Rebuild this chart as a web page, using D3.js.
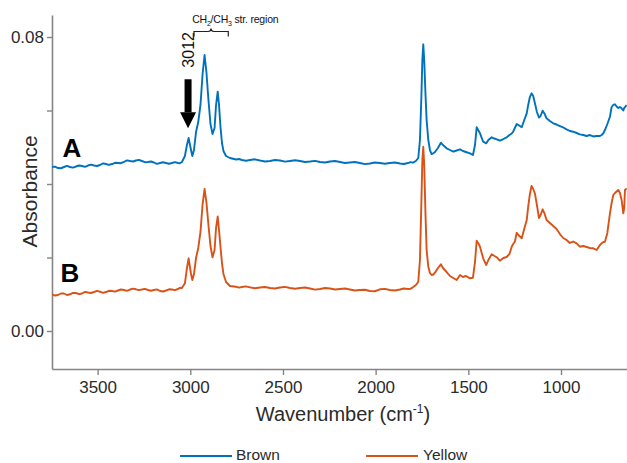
<!DOCTYPE html>
<html>
<head>
<meta charset="utf-8">
<script src="https://cdn.jsdelivr.net/npm/d3@7"></script>
<style>
  html, body { margin: 0; padding: 0; background: #fff; }
  svg { display: block; font-family: "Liberation Sans", Arial, sans-serif; }
</style>
</head>
<body>
<svg id="chart" width="627" height="463"></svg>
<script>
// FTIR spectra of two samples (absorbance vs wavenumber, cm^-1)
const wavenumber = [
  3746, 3730, 3714, 3698, 3681, 3665, 3649, 3633, 3617, 3600, 3584, 3568, 3552, 3536, 3519, 3503,
  3487, 3471, 3455, 3439, 3422, 3406, 3390, 3374, 3358, 3342, 3325, 3309, 3293, 3277, 3261, 3245,
  3228, 3212, 3196, 3180, 3163, 3147, 3131, 3115, 3099, 3083, 3066, 3056, 3045,
  3029, 3018, 3009, 2996, 2989, 2980, 2969, 2957, 2945,
  2934, 2923, 2913, 2902, 2891, 2880, 2869, 2861, 2852, 2845, 2837, 2829, 2821, 2807, 2786,
  2753, 2737, 2721, 2700, 2678, 2651, 2624, 2597, 2570, 2543, 2516, 2489, 2462, 2435, 2408, 2381,
  2354, 2327, 2300, 2273, 2246, 2219, 2192, 2166, 2139, 2112, 2085, 2058, 2031, 2004, 1977, 1950,
  1923, 1896, 1869, 1848, 1826, 1812, 1799,
  1783, 1770, 1761, 1753, 1748, 1743, 1738, 1731, 1725, 1716, 1707, 1698, 1689,
  1680, 1664, 1648, 1637, 1617, 1599, 1581, 1563, 1545, 1529, 1513, 1491, 1475, 1464, 1455, 1447,
  1437, 1420, 1403, 1392, 1374, 1359, 1346, 1330, 1311, 1293, 1278, 1266, 1258, 1249, 1239, 1230,
  1212, 1200, 1185, 1177, 1168, 1159, 1150, 1141, 1130, 1119, 1110, 1099, 1088, 1078, 1060, 1042,
  1024, 1006, 988, 970, 952, 934, 916, 898, 880, 862, 844, 826, 808, 790, 781, 771,
  763, 750, 736, 727, 718, 709, 700, 691, 682, 673, 664, 659, 655, 646
];
const brown = [
  0.04463, 0.04474, 0.04435, 0.04429, 0.04463, 0.04493, 0.04463, 0.04445, 0.04476, 0.04503, 0.04490, 0.04467, 0.04503, 0.04528, 0.04503, 0.04490,
  0.04517, 0.04561, 0.04544, 0.04519, 0.04544, 0.04578, 0.04571, 0.04565, 0.04599, 0.04643, 0.04626, 0.04613, 0.04640, 0.04658, 0.04626, 0.04593,
  0.04599, 0.04612, 0.04585, 0.04548, 0.04571, 0.04591, 0.04571, 0.04551, 0.04571, 0.04596, 0.04571, 0.04565, 0.04599,
  0.04762, 0.05061, 0.05252, 0.04925, 0.04762, 0.04925, 0.05415, 0.05687, 0.06150,
  0.06966, 0.07510, 0.07048, 0.06286, 0.05633, 0.05361, 0.05524, 0.06150, 0.06512, 0.06150, 0.05551, 0.05116, 0.04898, 0.04762, 0.04708,
  0.04667, 0.04680, 0.04653, 0.04633, 0.04653, 0.04672, 0.04640, 0.04613, 0.04626, 0.04653, 0.04640, 0.04608, 0.04626, 0.04646, 0.04626, 0.04599,
  0.04612, 0.04631, 0.04599, 0.04586, 0.04612, 0.04626, 0.04599, 0.04572, 0.04585, 0.04598, 0.04571, 0.04540, 0.04558, 0.04585, 0.04571, 0.04551,
  0.04571, 0.04585, 0.04558, 0.04545, 0.04571, 0.04596, 0.04580,
  0.04626, 0.04708, 0.05197, 0.06422, 0.07374, 0.07801, 0.07374, 0.06422, 0.05742, 0.05197, 0.04925, 0.04816, 0.04835,
  0.04871, 0.04980, 0.05124, 0.05061, 0.04971, 0.04925, 0.04879, 0.04912, 0.04944, 0.04898, 0.04871, 0.04835, 0.04789, 0.05061, 0.05543, 0.05469,
  0.05380, 0.05151, 0.05108, 0.05197, 0.05271, 0.05238, 0.05216, 0.05178, 0.05224, 0.05271, 0.05333, 0.05374, 0.05423, 0.05524, 0.05633, 0.05605,
  0.05543, 0.05714, 0.05924, 0.06150, 0.06367, 0.06468, 0.06395, 0.06204, 0.05959, 0.05810, 0.05850, 0.05995, 0.05905, 0.05788, 0.05714, 0.05652,
  0.05619, 0.05578, 0.05538, 0.05488, 0.05442, 0.05423, 0.05388, 0.05352, 0.05333, 0.05306, 0.05333, 0.05293, 0.05306, 0.05306, 0.05333, 0.05388,
  0.05469, 0.05633, 0.05831, 0.06095, 0.06150, 0.06169, 0.06109, 0.06068, 0.06095, 0.06060, 0.06000, 0.06068, 0.06087, 0.06150
];
const yellow = [
  0.00999, 0.00965, 0.00980, 0.01020, 0.01020, 0.00980, 0.00999, 0.01037, 0.01034, 0.01002, 0.01020, 0.01064, 0.01048, 0.01035, 0.01061, 0.01090,
  0.01069, 0.01035, 0.01061, 0.01095, 0.01088, 0.01070, 0.01102, 0.01129, 0.01116, 0.01093, 0.01129, 0.01152, 0.01135, 0.01112, 0.01129, 0.01148,
  0.01116, 0.01096, 0.01116, 0.01132, 0.01088, 0.01075, 0.01102, 0.01136, 0.01129, 0.01111, 0.01143, 0.01177, 0.01170,
  0.01298, 0.01714, 0.01978, 0.01551, 0.01388, 0.01551, 0.01986, 0.02259, 0.02694,
  0.03429, 0.03864, 0.03510, 0.02884, 0.02313, 0.02005, 0.02204, 0.02803, 0.03116, 0.02748, 0.02286, 0.01850, 0.01551, 0.01333, 0.01225,
  0.01205, 0.01181, 0.01197, 0.01213, 0.01189, 0.01162, 0.01184, 0.01197, 0.01170, 0.01157, 0.01184, 0.01202, 0.01170, 0.01150, 0.01170, 0.01183,
  0.01156, 0.01125, 0.01143, 0.01170, 0.01156, 0.01130, 0.01143, 0.01156, 0.01129, 0.01103, 0.01116, 0.01122, 0.01088, 0.01082, 0.01135, 0.01146,
  0.01116, 0.01103, 0.01129, 0.01156, 0.01143, 0.01146, 0.01189,
  0.01252, 0.01342, 0.01932, 0.03565, 0.04653, 0.05015, 0.04517, 0.03156, 0.02204, 0.01750, 0.01578, 0.01524, 0.01537,
  0.01586, 0.01714, 0.01815, 0.01714, 0.01605, 0.01497, 0.01442, 0.01388, 0.01524, 0.01469, 0.01497, 0.01434, 0.01450, 0.01878, 0.02457, 0.02395,
  0.02294, 0.01978, 0.01796, 0.01932, 0.02087, 0.02041, 0.02005, 0.01913, 0.01986, 0.02014, 0.02095, 0.02294, 0.02367, 0.02430, 0.02675, 0.02612,
  0.02522, 0.02748, 0.03020, 0.03382, 0.03728, 0.03946, 0.03864, 0.03747, 0.03429, 0.03075, 0.03156, 0.03312, 0.03184, 0.03020, 0.02939, 0.02857,
  0.02776, 0.02639, 0.02531, 0.02476, 0.02395, 0.02435, 0.02386, 0.02294, 0.02313, 0.02286, 0.02259, 0.02250, 0.02204, 0.02340, 0.02386, 0.02422,
  0.02430, 0.02667, 0.03203, 0.03483, 0.03701, 0.03755, 0.03796, 0.03837, 0.03755, 0.03565, 0.03203, 0.03347, 0.03837, 0.03883
];
const seriesNames = ["Brown", "Yellow"];
const seriesColors = ["#0072BD", "#D95319"];
const xTicks = [3500, 3000, 2500, 2000, 1500, 1000];
const yTicks = [0, 0.02, 0.04, 0.06, 0.08];
const yTickLabels = ["0.00", "", "", "", "0.08"];

const svg = d3.select("#chart");
const margin = { left: 52, top: 15, right: 0, bottom: 94 };
const W = 627, H = 463;
const x = d3.scaleLinear().domain([3746, 644]).range([margin.left, W - margin.right]);
const y = d3.scaleLinear().domain([-0.01034, 0.08599]).range([H - margin.bottom, margin.top]);

svg.append("defs").append("clipPath").attr("id", "plot-clip")
  .append("rect")
  .attr("x", margin.left).attr("y", margin.top)
  .attr("width", W - margin.left - margin.right)
  .attr("height", H - margin.top - margin.bottom);

const axisColor = "#858585";
const textColor = "#2b2b2b";

// x axis
const gx = svg.append("g")
  .attr("transform", `translate(0,${H - margin.bottom})`)
  .call(d3.axisBottom(x).tickValues(xTicks).tickSize(6).tickSizeOuter(0).tickPadding(6).tickFormat(d3.format("d")));
// y axis
const gy = svg.append("g")
  .attr("transform", `translate(${margin.left},0)`)
  .call(d3.axisLeft(y).tickValues(yTicks).tickSize(5).tickSizeOuter(0).tickPadding(3)
    .tickFormat((d, i) => yTickLabels[i]));
[gx, gy].forEach(g => {
  g.select(".domain").attr("stroke", axisColor).attr("stroke-width", 1.6);
  g.selectAll(".tick line").attr("stroke", axisColor).attr("stroke-width", 1.4);
  g.selectAll(".tick text").attr("fill", textColor).style("font-size", "17px")
    .style("font-family", "'Liberation Sans', Arial, sans-serif");
});

// axis titles
svg.append("text")
  .attr("transform", `translate(37,${y(0.038)}) rotate(-90)`)
  .attr("text-anchor", "middle")
  .attr("fill", textColor)
  .style("font-size", "21px")
  .text("Absorbance");

const xt = svg.append("text")
  .attr("x", 343).attr("y", 421)
  .attr("text-anchor", "middle")
  .attr("fill", textColor)
  .style("font-size", "20px");
xt.append("tspan").text("Wavenumber (cm");
xt.append("tspan").attr("dy", -8).style("font-size", "12px").text("-1");
xt.append("tspan").attr("dy", 8).text(")");

// spectra
const line = d3.line()
  .x((d, i) => x(wavenumber[i]))
  .y(d => y(d));
const plot = svg.append("g").attr("clip-path", "url(#plot-clip)");
[brown, yellow].forEach((vals, k) => {
  plot.append("path")
    .datum(vals)
    .attr("fill", "none")
    .attr("stroke", seriesColors[k])
    .attr("stroke-width", 1.9)
    .attr("stroke-linejoin", "round")
    .attr("d", line);
});

// panel letters
svg.append("text").attr("x", x(3689)).attr("y", y(0.0474))
  .style("font-size", "26px").style("font-weight", "bold").attr("fill", "#000").text("A");
svg.append("text").attr("x", x(3700)).attr("y", y(0.0134))
  .style("font-size", "26px").style("font-weight", "bold").attr("fill", "#000").text("B");

// 3012 marker: arrow pointing down at the =C-H stretch
const ax = x(3012);
const arrow = svg.append("g").attr("fill", "#000");
arrow.append("rect").attr("x", ax - 3.5).attr("y", y(0.0685)).attr("width", 7).attr("height", y(0.0595) - y(0.0685));
arrow.append("path").attr("d", d3.line()([[ax - 8, y(0.0595)], [ax + 8, y(0.0595)], [ax, y(0.0552)]]) + "Z");
svg.append("text")
  .attr("transform", `translate(${ax + 5.5},${y(0.0765)}) rotate(-90)`)
  .attr("text-anchor", "middle")
  .attr("fill", "#111")
  .style("font-size", "16px")
  .text("3012");

// CH2/CH3 stretching region bracket
const b0 = x(2980), b1 = x(2795), bm = x(2888);
const by = y(0.0815);
svg.append("path")
  .attr("d", `M${b0},${by + 5} L${b0},${by} L${bm - 3},${by} Q${bm},${by} ${bm},${by - 3} Q${bm},${by} ${bm + 3},${by} L${b1},${by} L${b1},${by + 5}`)
  .attr("fill", "none").attr("stroke", "#222").attr("stroke-width", 1.2);
const lab = svg.append("text")
  .attr("x", x(2990)).attr("y", 23)
  .attr("fill", "#111")
  .style("font-size", "10.5px")
  .style("letter-spacing", "-0.2px");
lab.append("tspan").text("CH");
lab.append("tspan").attr("dy", 2.5).style("font-size", "7px").text("2");
lab.append("tspan").attr("dy", -2.5).text("/CH");
lab.append("tspan").attr("dy", 2.5).style("font-size", "7px").text("3");
lab.append("tspan").attr("dy", -2.5).text(" str. region");

// legend
const legend = svg.append("g");
const legendItems = [{ x0: 180, tx: 236 }, { x0: 366, tx: 423 }];
seriesNames.forEach((name, k) => {
  const it = legendItems[k];
  legend.append("line")
    .attr("x1", it.x0).attr("x2", it.x0 + 52)
    .attr("y1", 456).attr("y2", 456)
    .attr("stroke", seriesColors[k]).attr("stroke-width", 2);
  legend.append("text")
    .attr("x", it.tx).attr("y", 460)
    .attr("fill", textColor)
    .style("font-size", "15.5px")
    .text(name);
});
</script>
</body>
</html>
